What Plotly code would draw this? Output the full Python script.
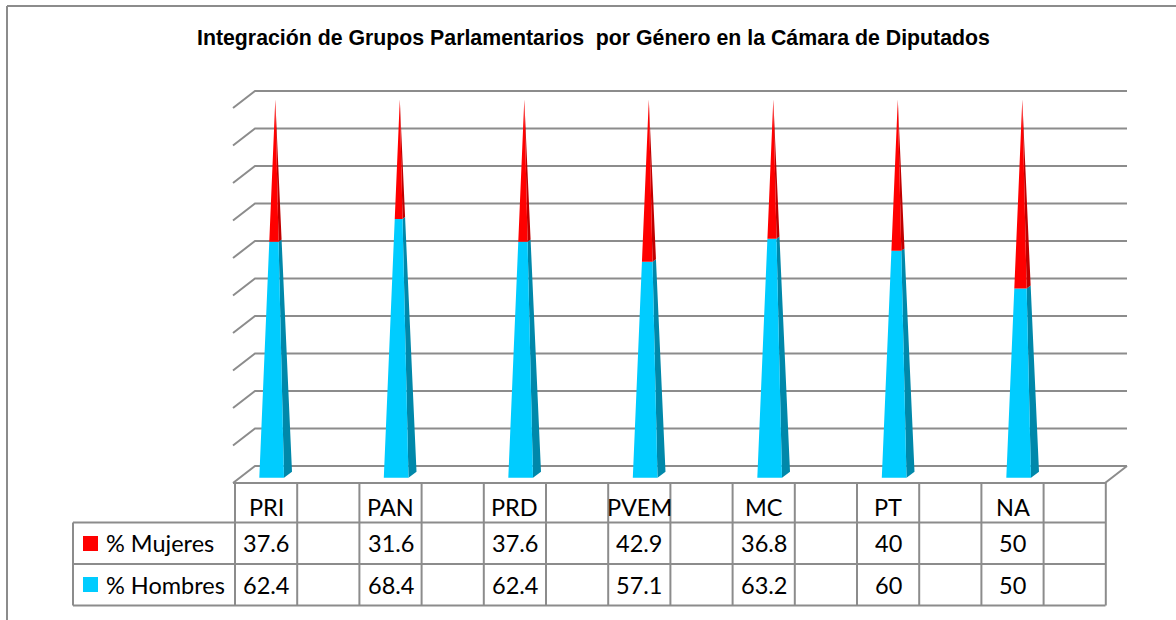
import plotly.graph_objects as go

# ---- data ----
categories = ["PRI", "PAN", "PRD", "PVEM", "MC", "PT", "NA"]
mujeres = [37.6, 31.6, 37.6, 42.9, 36.8, 40, 50]
hombres = [62.4, 68.4, 62.4, 57.1, 63.2, 60, 50]
mujeres_labels = ["37.6", "31.6", "37.6", "42.9", "36.8", "40", "50"]
hombres_labels = ["62.4", "68.4", "62.4", "57.1", "63.2", "60", "50"]
grid_values = [0, 10, 20, 30, 40, 50, 60, 70, 80, 90, 100]
title = "Integración de Grupos Parlamentarios  por Género en la Cámara de Diputados"

# ---- layout constants (pixels) ----
W, H = 1176, 620
CAT_STEP = 124.5       # px per category on the x axis
CAT0_PX = 275.3        # px of first category centre
ZERO_PX = 474.5        # px of value 0 on the pyramids' centre plane
VAL_PX = 3.75          # px per percentage point
GRID = "#8C8C8C"
TXT = "#000000"
BLUE, BLUE_SIDE = "#00CCFF", "#0088AA"
RED, RED_SIDE = "#FF0000", "#C00000"

x_range = [-CAT0_PX / CAT_STEP, (W - CAT0_PX) / CAT_STEP]
y_range = [(ZERO_PX - H) / VAL_PX, ZERO_PX / VAL_PX]


def dx(px):
    return px / CAT_STEP


def dy(px):
    return px / VAL_PX


# wall geometry relative to the category axis
WALL_L, WALL_R = dx(255 - CAT0_PX), dx(1127 - CAT0_PX)
DEPTH_X, DEPTH_Y = dx(22), dy(17)
WALL_SHIFT = dy(8.5)

gx, gy = [], []
for v in grid_values:
    yb = v + WALL_SHIFT
    gx += [WALL_L - DEPTH_X, WALL_L, WALL_R, None]
    gy += [yb - DEPTH_Y, yb, yb, None]
# floor front edge and right edge
yb = WALL_SHIFT
gx += [WALL_L - DEPTH_X, WALL_R - DEPTH_X, WALL_R, None]
gy += [yb - DEPTH_Y, yb - DEPTH_Y, yb, None]

fig = go.Figure()
fig.add_trace(go.Scatter(x=gx, y=gy, mode="lines", line=dict(color=GRID, width=2),
                         hoverinfo="skip", showlegend=False))

# pyramid base offsets relative to centre
LEFT, MID, RIGHT = dx(-16), dx(8.7), dx(16.7)
FRONT_DROP, SIDE_DROP = dy(-3.2), dy(2.8)


def faces(i, v0, v1):
    def k(v):
        return 1 - v / 100
    front = [(i + LEFT * k(v0), v0 + FRONT_DROP * k(v0)), (i + MID * k(v0), v0 + FRONT_DROP * k(v0)),
             (i + MID * k(v1), v1 + FRONT_DROP * k(v1)), (i + LEFT * k(v1), v1 + FRONT_DROP * k(v1))]
    side = [(i + MID * k(v0), v0 + FRONT_DROP * k(v0)), (i + RIGHT * k(v0), v0 + SIDE_DROP * k(v0)),
            (i + RIGHT * k(v1), v1 + SIDE_DROP * k(v1)), (i + MID * k(v1), v1 + FRONT_DROP * k(v1))]
    return front, side


def add_polys(polys, color):
    xs, ys = [], []
    for poly in polys:
        closed = poly + [poly[0]]
        xs += [p[0] for p in closed] + [None]
        ys += [p[1] for p in closed] + [None]
    fig.add_trace(go.Scatter(x=xs, y=ys, mode="none", fill="toself", fillcolor=color,
                             hoverinfo="skip", showlegend=False))


for series, side_col, front_col in (("h", BLUE_SIDE, BLUE), ("m", RED_SIDE, RED)):
    fr, si = [], []
    for i in range(len(categories)):
        v0 = 0 if series == "h" else hombres[i]
        v1 = hombres[i] if series == "h" else hombres[i] + mujeres[i]
        f, s = faces(i, v0, v1)
        fr.append(f)
        si.append(s)
    add_polys(si, side_col)
    add_polys(fr, front_col)

# ---- data table ----
TBL_L, TBL_C0, COL, TBL_R = 73, 235, 62.2, 1105.5
ROW_Y = [482.5, 522.5, 564, 605.5]


def px_x(p):
    return p / W


def px_y(p):
    return 1 - p / H


shapes = []


def line(x0, y0, x1, y1, width=2, color=GRID):
    shapes.append(dict(type="line", xref="paper", yref="paper", x0=px_x(x0), x1=px_x(x1),
                       y0=px_y(y0), y1=px_y(y1), line=dict(color=color, width=width)))


for j in range(15):
    line(TBL_C0 + j * COL, ROW_Y[0], TBL_C0 + j * COL, ROW_Y[3])
line(TBL_L, ROW_Y[1], TBL_L, ROW_Y[3])
line(TBL_L, ROW_Y[1], TBL_R, ROW_Y[1])
line(TBL_L, ROW_Y[2], TBL_R, ROW_Y[2])
line(TBL_L, ROW_Y[3], TBL_R, ROW_Y[3])

# outer frame: left and top edges only
line(7, 620, 7, 6)
line(7, 6, 1176, 6)

for col, y0 in ((RED, 536), (BLUE, 577)):
    shapes.append(dict(type="rect", xref="paper", yref="paper", x0=px_x(83), x1=px_x(98),
                       y0=px_y(y0), y1=px_y(y0 + 15), fillcolor=col, line=dict(width=0)))

ann = []
FONT = dict(family="Lato, Carlito, Calibri", size=23.5, color=TXT)


def text(t, xp, yp, anchor="center"):
    ann.append(dict(text=t, xref="paper", yref="paper", x=px_x(xp), y=px_y(yp), xanchor=anchor,
                    yanchor="middle", showarrow=False, font=FONT))


for i, c in enumerate(categories):
    xc = TBL_C0 + (2 * i + 0.5) * COL
    text(c, xc, 507)
    text(mujeres_labels[i], xc, 543)
    text(hombres_labels[i], xc, 585)
text("% Mujeres", 104, 543, "left")
text("% Hombres", 104, 585, "left")

ann.append(dict(text="<b>%s</b>" % title, xref="paper", yref="paper", x=px_x(594), y=px_y(38),
                xanchor="center", yanchor="middle", showarrow=False,
                font=dict(family="Liberation Sans, Arial", size=21.3, color="#000000")))

fig.update_layout(
    width=W, height=H, margin=dict(l=0, r=0, t=0, b=0), autosize=False,
    paper_bgcolor="white", plot_bgcolor="white", showlegend=False,
    xaxis=dict(visible=False, range=x_range, fixedrange=True),
    yaxis=dict(visible=False, range=y_range, fixedrange=True),
    shapes=shapes, annotations=ann,
)
fig.write_html("out.html", config={"displayModeBar": False},
               post_script="document.body.style.margin='0';document.body.style.overflow='hidden';")
